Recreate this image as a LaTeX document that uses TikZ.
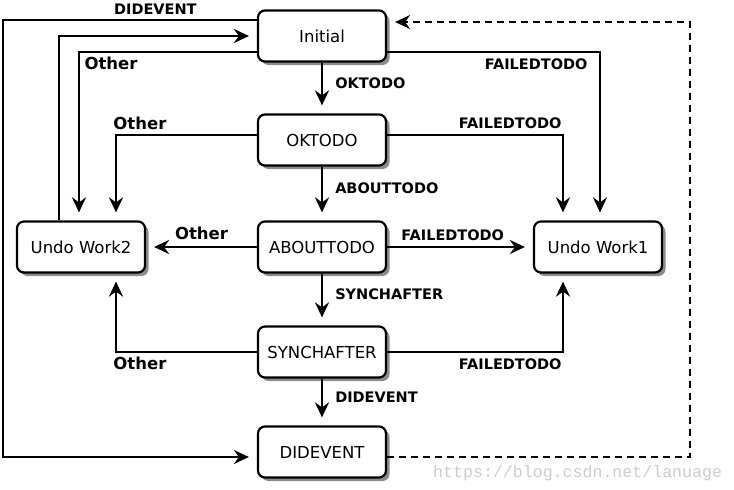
\documentclass[tikz,border=0pt]{standalone}
\usepackage{fontspec}
\setmainfont{DejaVu Sans}
\newfontfamily\markfont{Liberation Mono}
\usetikzlibrary{arrows.meta,shadows}
\tikzset{
    stbox/.style={draw,line width=2.2pt,rounded corners=7pt,fill=white,minimum width=128pt,minimum height=51pt,
        drop shadow={shadow xshift=3.5pt,shadow yshift=-3.5pt,fill=gray!90,opacity=1},font=\fontsize{16.5}{19}\selectfont},
    trans/.style={line width=2.5pt,-{Stealth[length=15pt,width=14pt,inset=5pt]},shorten >=8pt},
    backtrans/.style={trans,dash pattern=on 7pt off 5pt},
    lbl/.style={font=\fontsize{14.5}{17}\bfseries\selectfont,inner sep=2pt},
    otherlbl/.style={font=\fontsize{16.5}{19}\bfseries\selectfont,inner sep=2pt}
}
\begin{document}
\begin{tikzpicture}[x=1pt,y=-1pt]
\useasboundingbox (0,0) rectangle (734,490);
% states
\node[stbox] (init) at (322,36) {Initial};
\node[stbox] (ok) at (322,140) {OKTODO};
\node[stbox] (about) at (322,247) {ABOUTTODO};
\node[stbox] (sync) at (322,352) {SYNCHAFTER};
\node[stbox] (dide) at (322,452) {DIDEVENT};
\node[stbox] (undo2) at (81,247) {Undo Work2};
\node[stbox] (undo1) at (598,247) {Undo Work1};
% main line
\draw[trans] (init) -- node[lbl,right=10pt,pos=0.4]{OKTODO} (ok);
\draw[trans] (ok) -- node[lbl,right=10pt,pos=0.4]{ABOUTTODO} (about);
\draw[trans] (about) -- node[lbl,right=10pt,pos=0.4]{SYNCHAFTER} (sync);
\draw[trans] (sync) -- node[lbl,right=10pt,pos=0.4]{DIDEVENT} (dide);
\draw[trans] (about) -- node[otherlbl,above=4pt]{Other} (undo2);
\draw[trans] (about) -- node[lbl,above=3pt,pos=0.45]{FAILEDTODO} (undo1);
% around the left
\draw[trans] (init.west |- 0,20) -| node[lbl,above=2pt,pos=0.2]{DIDEVENT} (3,457) -- (dide.west |- 0,457);
\draw[trans] (undo2.north -| 59,0) |- (init.west);
\draw[trans] (init.west |- 0,52) -| node[otherlbl,below=2pt,pos=0.41]{Other} (undo2.north -| 79,0);
\draw[trans] (ok.west |- 0,135) -| node[otherlbl,above=2pt,pos=0.415]{Other} (undo2.north -| 116,0);
\draw[trans] (sync.west |- 0,352) -| node[otherlbl,below=2pt,pos=0.415]{Other} (undo2.south -| 116,0);
% around the right
\draw[trans] (init.east |- 0,52) -| node[lbl,below=3pt,pos=0.35]{FAILEDTODO} (undo1.north -| 600,0);
\draw[trans] (ok.east |- 0,135) -| node[lbl,above=3pt,pos=0.35]{FAILEDTODO} (undo1.north -| 563,0);
\draw[trans] (sync.east |- 0,352) -| node[lbl,below=3pt,pos=0.35]{FAILEDTODO} (undo1.south -| 563,0);
\coordinate (topright) at (690,22);
\draw[backtrans] (dide.east |- 0,457) -| (topright) -- (init.east |- topright);
\node[anchor=base west,inner sep=0pt,text=gray!40,font=\markfont\fontsize{16.6}{19}\selectfont] (mark) at (433,477) {https://blog.csdn.net/lanuage};
\end{tikzpicture}
\end{document}
